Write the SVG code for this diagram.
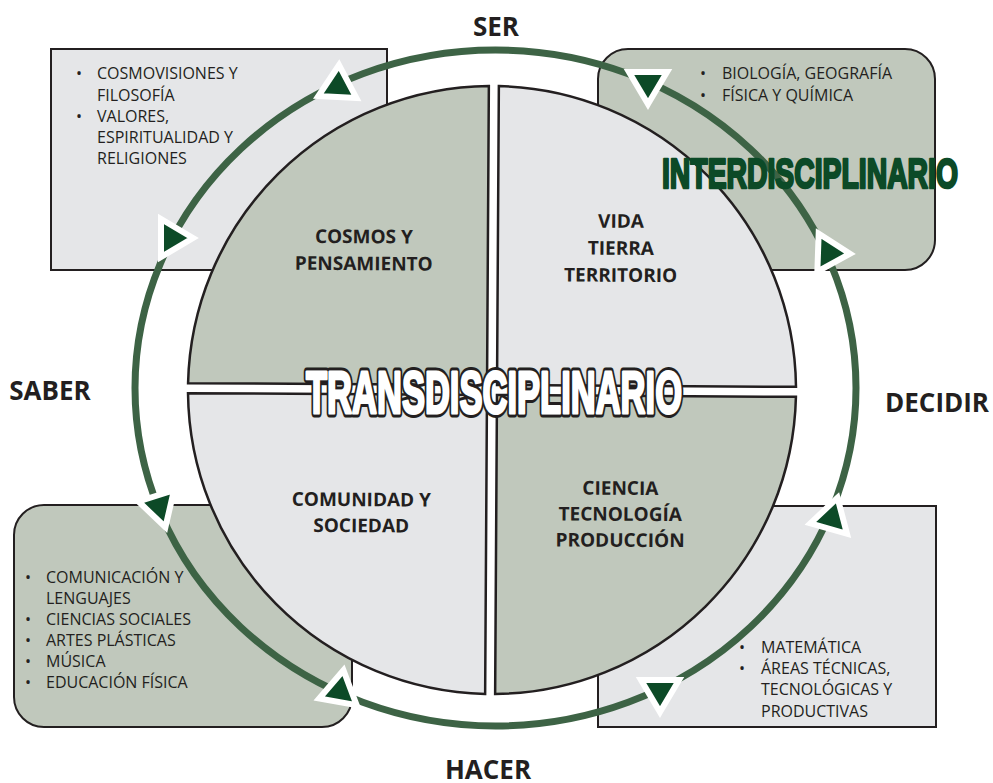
<svg xmlns="http://www.w3.org/2000/svg" xmlns:xlink="http://www.w3.org/1999/xlink" width="993" height="783" viewBox="0 0 993 783">
<defs>
<style>
.sage{fill:#c0c8bc}
.grey{fill:#e5e6e8}
.box{stroke:#231f20;stroke-width:2}
.quad{stroke:#231f20;stroke-width:2.5}
.lbl{font-family:"Open Sans","Liberation Sans",sans-serif;font-weight:bold;font-size:19px;fill:#231f20;text-anchor:middle}
.big{font-family:"Open Sans","Liberation Sans",sans-serif;font-weight:bold;font-size:26px;fill:#231f20;text-anchor:middle}
.item{font-family:"Open Sans","Liberation Sans",sans-serif;font-size:16px;fill:#231f20}
.cond{font-family:"Liberation Sans",Arial,sans-serif;font-weight:bold}
</style>
<polygon id="tri" points="0,-20 -19,12 19,12" fill="#0c4a27" stroke="#ffffff" stroke-width="6" stroke-linejoin="miter"/>
</defs>
<rect width="993" height="783" fill="#ffffff"/>

<g id="box-tl">
<rect class="grey box" x="51" y="49" width="336" height="221"/>
<text class="item"><tspan x="76" y="79">•</tspan><tspan x="97" y="79">COSMOVISIONES Y</tspan><tspan x="97" y="101">FILOSOFÍA</tspan><tspan x="76" y="122">•</tspan><tspan x="97" y="122">VALORES,</tspan><tspan x="97" y="143">ESPIRITUALIDAD Y</tspan><tspan x="97" y="164">RELIGIONES</tspan></text>
</g>
<g id="box-tr">
<rect class="sage box" x="598" y="49" width="337" height="221" rx="30" ry="30"/>
<text class="item"><tspan x="700" y="79">•</tspan><tspan x="722" y="79">BIOLOGÍA, GEOGRAFÍA</tspan><tspan x="700" y="101">•</tspan><tspan x="722" y="101">FÍSICA Y QUÍMICA</tspan></text>
</g>
<g id="box-bl">
<rect class="sage box" x="14" y="505" width="338" height="222" rx="30" ry="30"/>
<text class="item"><tspan x="25" y="583">•</tspan><tspan x="46" y="583">COMUNICACIÓN Y</tspan><tspan x="46" y="604">LENGUAJES</tspan><tspan x="25" y="625">•</tspan><tspan x="46" y="625">CIENCIAS SOCIALES</tspan><tspan x="25" y="646">•</tspan><tspan x="46" y="646">ARTES PLÁSTICAS</tspan><tspan x="25" y="667">•</tspan><tspan x="46" y="667">MÚSICA</tspan><tspan x="25" y="688">•</tspan><tspan x="46" y="688">EDUCACIÓN FÍSICA</tspan></text>
</g>
<g id="box-br">
<rect class="grey box" x="598" y="506" width="338" height="221"/>
<text class="item"><tspan x="739" y="653">•</tspan><tspan x="761" y="653">MATEMÁTICA</tspan><tspan x="739" y="674">•</tspan><tspan x="761" y="674">ÁREAS TÉCNICAS,</tspan><tspan x="761" y="695">TECNOLÓGICAS Y</tspan><tspan x="761" y="717">PRODUCTIVAS</tspan></text>
</g>

<g id="connectors">
<ellipse cx="495.5" cy="388" rx="360.5" ry="338" fill="none" stroke="#3d6345" stroke-width="7"/>
</g>

<g transform="rotate(0.35 492 390)">
<g id="q-cosmos">
<path class="sage quad" d="M487,385 L188.04,385 A304,304 0 0 1 487,86.04 Z"/>
<text class="lbl"><tspan x="363" y="244">COSMOS Y</tspan><tspan x="363" y="271">PENSAMIENTO</tspan></text>
</g>
<g id="q-vida">
<path class="grey quad" d="M497,385 L497,86.04 A304,304 0 0 1 795.96,385 Z"/>
<text class="lbl"><tspan x="620" y="227">VIDA</tspan><tspan x="620" y="254">TIERRA</tspan><tspan x="620" y="281">TERRITORIO</tspan></text>
</g>
<g id="q-ciencia">
<path class="sage quad" d="M497,395 L795.96,395 A304,304 0 0 1 497,693.96 Z"/>
<text class="lbl"><tspan x="621" y="494">CIENCIA</tspan><tspan x="621" y="520">TECNOLOGÍA</tspan><tspan x="621" y="546">PRODUCCIÓN</tspan></text>
</g>
<g id="q-comunidad">
<path class="grey quad" d="M487,395 L487,693.96 A304,304 0 0 1 188.04,395 Z"/>
<text class="lbl"><tspan x="362" y="507">COMUNIDAD Y</tspan><tspan x="362" y="533">SOCIEDAD</tspan></text>
</g>
</g>

<g id="arrows">
<use xlink:href="#tri" transform="translate(338 85) rotate(3)"/>
<use xlink:href="#tri" transform="translate(173 238) rotate(90)"/>
<use xlink:href="#tri" transform="translate(648 84) rotate(180)"/>
<use xlink:href="#tri" transform="translate(830 253) rotate(92)"/>
<use xlink:href="#tri" transform="translate(832 517) rotate(16)"/>
<use xlink:href="#tri" transform="translate(660 692) rotate(180)"/>
<use xlink:href="#tri" transform="translate(340 690) rotate(10)"/>
<use xlink:href="#tri" transform="translate(158 506) rotate(-77)"/>
</g>

<g id="labels">
<text class="big" x="496" y="36">SER</text>
<text class="big" x="488" y="779">HACER</text>
<text class="big" x="50" y="400">SABER</text>
<text class="big" x="937" y="412">DECIDIR</text>
<text class="cond" x="662" y="188" font-size="42" textLength="296" lengthAdjust="spacingAndGlyphs" fill="#0c4a27" stroke="#0c4a27" stroke-width="2.6" stroke-linejoin="round">INTERDISCIPLINARIO</text>
<text class="cond" x="306" y="413" font-size="60" textLength="376" lengthAdjust="spacingAndGlyphs" fill="#231f20" stroke="#231f20" stroke-width="9" stroke-linejoin="round">TRANSDISCIPLINARIO</text>
<text class="cond" x="306" y="413" font-size="60" textLength="376" lengthAdjust="spacingAndGlyphs" fill="#ffffff" stroke="#ffffff" stroke-width="3" stroke-linejoin="round">TRANSDISCIPLINARIO</text>
</g>
</svg>
